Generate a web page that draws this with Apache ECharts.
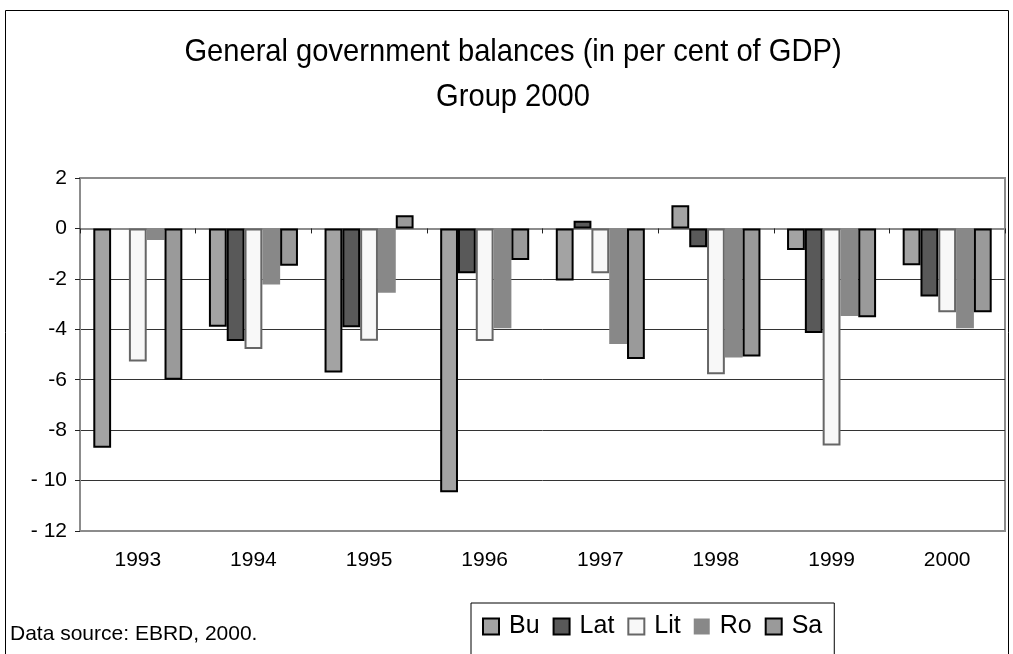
<!DOCTYPE html>
<html>
<head>
<meta charset="utf-8">
<script src="https://cdn.jsdelivr.net/npm/echarts@6/dist/echarts.min.js"></script>
<style>
  html, body { margin: 0; padding: 0; background: #fff; }
  #chart { width: 1013px; height: 654px; }
</style>
</head>
<body>
<div id="chart"></div>
<script>
// data
const years = ['1993', '1994', '1995', '1996', '1997', '1998', '1999', '2000']
const bu  = [-8.70, -3.90, -5.71, -10.46, -2.07,  0.92, -0.86, -1.46]
const lat = [ null, -4.46, -3.92,  -1.78,  0.30, -0.75, -4.15, -2.70]
const lit = [-5.28, -4.78, -4.45,  -4.46, -1.78, -5.78, -8.61, -3.32]
const ro  = [-0.46, -2.22, -2.55,  -3.96, -4.58, -5.12, -3.47, -3.96]
const sa  = [-6.00, -1.48,  0.52,  -1.25, -5.18, -5.08, -3.52, -3.32]
const yTickLabels = ['- 12', '- 10', '-8', '-6', '-4', '-2', '0', '2']

const FONT = "'Liberation Sans', Arial, sans-serif"

const chart = echarts.init(document.getElementById('chart'))

const mkBar = (name, data, fill, border, bw) => ({
  name,
  type: 'bar',
  data,
  barGap: '0%',
  barCategoryGap: '23%',
  itemStyle: { color: fill, borderColor: border, borderWidth: bw },
  emphasis: { disabled: true }
})

// title text is condensed in the original, so squeeze it horizontally
const titleText = (text, y) => ({
  type: 'text', silent: true, x: 513, y, scaleX: 0.91,
  style: {
    text, font: '32px ' + FONT, fill: '#000',
    textAlign: 'center', textVerticalAlign: 'middle'
  }
})

const option = {
  animation: false,
  backgroundColor: '#fff',
  grid: {
    left: 80, right: 8, top: 178, bottom: 123,
    show: true, borderColor: '#8c8c8c', borderWidth: 2, backgroundColor: 'transparent'
  },
  legend: {
    left: 471, top: 603,
    padding: [11, 12, 40, 11],
    itemGap: 13,
    itemWidth: 16, itemHeight: 16,
    icon: 'rect',
    borderColor: '#000', borderWidth: 1,
    textStyle: { fontFamily: FONT, fontSize: 25, color: '#000', padding: [0, 0, 0, 5] },
    data: ['Bu', 'Lat', 'Lit', 'Ro', 'Sa']
  },
  xAxis: [
    {
      type: 'category',
      data: years,
      position: 'bottom',
      axisLine: { onZero: false, lineStyle: { color: '#8c8c8c', width: 2 } },
      axisTick: { show: false },
      axisLabel: { margin: 19, fontFamily: FONT, fontSize: 21, color: '#000' }
    },
    {
      type: 'category',
      data: years,
      position: 'top',
      axisLine: { onZero: true, lineStyle: { color: '#8c8c8c', width: 2 } },
      axisTick: { show: true, inside: true, length: 5, lineStyle: { color: '#222' } },
      axisLabel: { show: false }
    }
  ],
  yAxis: {
    type: 'value',
    min: -12, max: 2, interval: 2,
    axisLine: { show: true, lineStyle: { color: '#8c8c8c', width: 2 } },
    axisTick: { show: true, length: 5, lineStyle: { color: '#222' } },
    splitLine: { showMinLine: false, showMaxLine: false, lineStyle: { color: '#333', width: 1 } },
    axisLabel: {
      margin: 13, fontFamily: FONT, fontSize: 21, color: '#000',
      formatter: v => yTickLabels[(v + 12) / 2]
    }
  },
  series: [
    mkBar('Bu', bu, '#a3a3a3', '#000', 2),
    mkBar('Lat', lat, '#595959', '#000', 2),
    mkBar('Lit', lit, '#f8f8f8', '#666', 2),
    mkBar('Ro', ro, '#888888', '#888888', 0),
    mkBar('Sa', sa, '#9a9a9a', '#000', 2)
  ],
  graphic: [
    {
      type: 'rect', silent: true,
      shape: { x: 5.5, y: 10.5, width: 1003, height: 700 },
      style: { fill: 'none', stroke: '#000', lineWidth: 1 }
    },
    titleText('General government balances (in per cent of GDP)', 52),
    titleText('Group 2000', 97),
    {
      type: 'text', silent: true, x: 10, y: 634,
      style: {
        text: 'Data source: EBRD, 2000.',
        font: '21px ' + FONT, fill: '#000', textAlign: 'left', textVerticalAlign: 'middle'
      }
    }
  ]
}

chart.setOption(option)
</script>
</body>
</html>
